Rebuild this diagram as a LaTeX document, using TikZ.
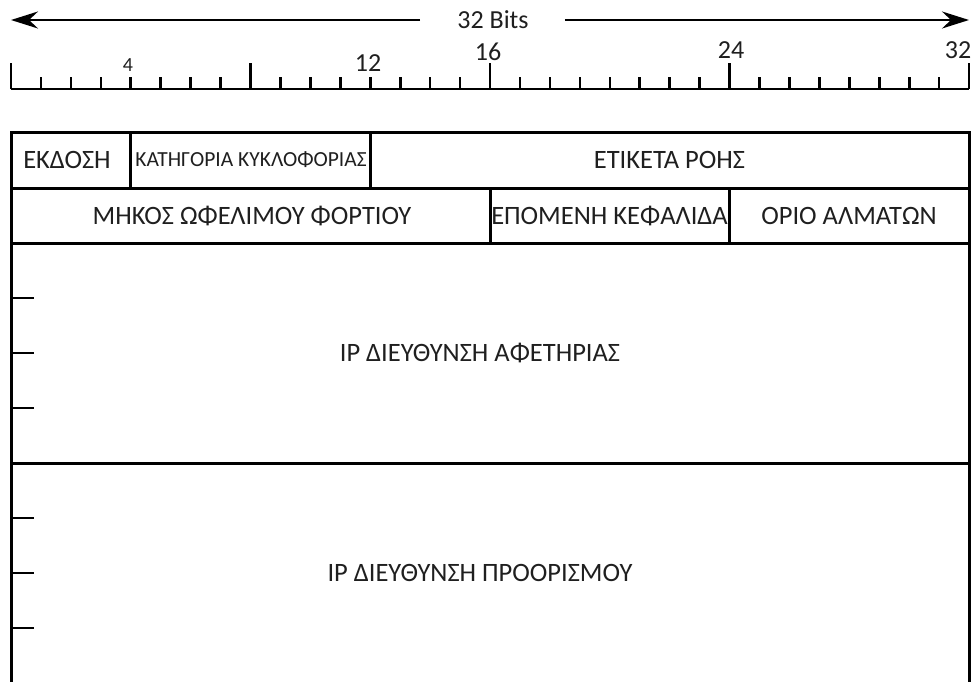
\documentclass[tikz,border=0pt]{standalone}
\usepackage{fontspec}
\setmainfont{Carlito}
\usetikzlibrary{arrows.meta,calc}
\begin{document}
\begin{tikzpicture}[x=1pt,y=-1pt,
  grid/.style={line width=3pt, line cap=rect},
  rul/.style={line width=2.6pt},
  field/.style={font=\fontsize{26.5}{28}\selectfont, inner sep=0pt, text=black!88},
  small/.style={font=\fontsize{21.5}{23}\selectfont, inner sep=0pt, text=black!88},
  lbl/.style={font=\fontsize{26}{28}\selectfont, inner sep=0pt, text=black!88},
  arr/.style={line width=2.2pt, -{Stealth[length=27pt,width=17pt,inset=9pt]}}]
\useasboundingbox (0,0) rectangle (972,681);
% 32 bits arrow
\node[lbl] (bits) at (493,20) {32 Bits};
\coordinate (aL) at (11,20);
\coordinate (aR) at (969,20);
\draw[arr] ($(bits.west)+(-37,0)$) -- (aL);
\draw[arr] ($(bits.east)+(36,0)$) -- (aR);
% ruler
\draw[rul] (11,89) -- (969,89);
\foreach \i in {0,...,32} {
  \pgfmathsetmacro{\xx}{11+\i*29.94}
  \draw[rul] (\xx,89) -- (\xx,77);
}
\foreach \i in {0,8,16,24,32} {
  \pgfmathsetmacro{\xx}{11+\i*29.94}
  \draw[rul] (\xx,89) -- (\xx,63);
}
\node[font=\fontsize{20}{22}\selectfont, inner sep=0pt, text=black!88] (n4) at (128,65) {4};
\node[lbl] (n12) at (368,63) {12};
\node[lbl] (n16) at (488,52) {16};
\node[lbl] (n24) at (731,50) {24};
\node[lbl] (n32) at (958,50) {32};
% header frame
\draw[grid] (11,681) -- (11,132) -- (969,132) -- (969,681);
\draw[grid] (11,188) -- (969,188);
\draw[grid] (11,243) -- (969,243);
\draw[grid] (11,463) -- (969,463);
\draw[grid] (130,132) -- (130,188);
\draw[grid] (370,132) -- (370,188);
\draw[grid] (490,188) -- (490,243);
\draw[grid] (729,188) -- (729,243);
\foreach \y in {298,353,408,518,573,628} {
  \draw[rul] (11,\y) -- (34,\y);
}
% fields
\node[field] (ver) at (67,160) {ΕΚΔΟΣΗ};
\node[small] (tc) at (251,160) {ΚΑΤΗΓΟΡΙΑ ΚΥΚΛΟΦΟΡΙΑΣ};
\node[field] (fl) at (669.5,160) {ΕΤΙΚΕΤΑ ΡΟΗΣ};
\node[field] (len) at (252,215.5) {ΜΗΚΟΣ ΩΦΕΛΙΜΟΥ ΦΟΡΤΙΟΥ};
\node[field] (nh) at (609.5,215.5) {ΕΠΟΜΕΝΗ ΚΕΦΑΛΙΔΑ};
\node[field] (hl) at (849,215.5) {ΟΡΙΟ ΑΛΜΑΤΩΝ};
\node[field] (src) at (480,353) {IP ΔΙΕΥΘΥΝΣΗ ΑΦΕΤΗΡΙΑΣ};
\node[field] (dst) at (480,573) {IP ΔΙΕΥΘΥΝΣΗ ΠΡΟΟΡΙΣΜΟΥ};
\end{tikzpicture}
\end{document}
